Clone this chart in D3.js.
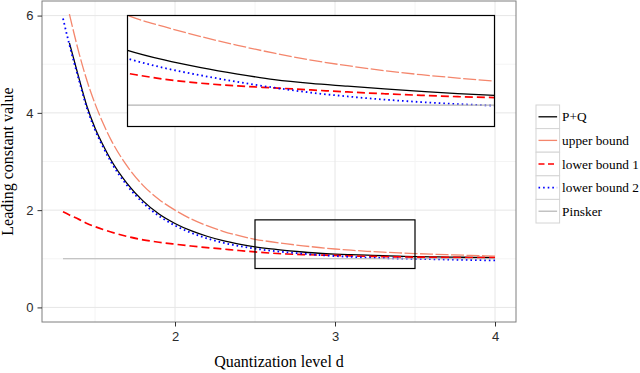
<!DOCTYPE html>
<html><head><meta charset="utf-8">
<script src="https://cdn.jsdelivr.net/npm/d3@7"></script>
<style>body{margin:0;background:#fff}svg{display:block}</style>
</head><body><div id="chart"></div>
<script>
// ---- data ----
const dValues = [1.30,1.34,1.40,1.45,1.50,1.55,1.60,1.70,1.80,1.90,2.00,2.10,2.20,2.30,2.40,2.50,2.60,2.70,2.80,2.90,3.00,3.10,3.20,3.30,3.40,3.50,3.60,3.70,3.80,3.90,4.00];
const pq     = [null,5.44,4.71,4.13,3.69,3.34,3.03,2.55,2.19,1.92,1.726,1.577,1.463,1.373,1.303,1.245,1.202,1.168,1.139,1.114,1.097,1.085,1.073,1.062,1.052,1.044,1.039,1.035,1.031,1.028,1.025];
const upper  = [null,6.03,5.23,4.66,4.19,3.79,3.445,2.91,2.51,2.22,2.00,1.82,1.68,1.565,1.475,1.40,1.350,1.306,1.267,1.232,1.201,1.176,1.154,1.136,1.121,1.107,1.095,1.084,1.074,1.064,1.055];
const lower1 = [1.965,1.90,1.81,1.725,1.66,1.602,1.55,1.46,1.39,1.34,1.30,1.263,1.23,1.20,1.17,1.142,1.116,1.098,1.086,1.077,1.068,1.059,1.051,1.044,1.038,1.034,1.031,1.028,1.026,1.024,1.022];
const lower2 = [5.94,5.40,4.67,4.09,3.65,3.30,2.99,2.51,2.15,1.88,1.684,1.535,1.42,1.33,1.262,1.208,1.166,1.133,1.104,1.078,1.056,1.039,1.025,1.014,1.005,0.998,0.991,0.984,0.978,0.971,0.965];
const pinsker= [1,1,1,1,1,1,1,1,1,1,1,1,1,1,1,1,1,1,1,1,1,1,1,1,1,1,1,1,1,1,1];
const seriesNames = ["P+Q","upper bound","lower bound 1","lower bound 2","Pinsker"];
const xTicks = [2,3,4];
const yTicks = [0,2,4,6];
const xMinor = [1.5,2.5,3.5];
const yMinor = [1,3,5];
const zoomX = [2.5,3.5];
const zoomY = [0.8,1.8];
const insetYDomain = [0.905,1.4];

// ---- styles ----
const styles = [
  {color:"#000000", width:1.3, dash:null},
  {color:"#F4866C", width:1.3, dash:"13,2.5"},
  {color:"#FF0000", width:1.7, dash:"8,4"},
  {color:"#0000FF", width:1.8, dash:"1.6,3"},
  {color:"#B3B3B3", width:1.2, dash:null}
];
const seriesVals = [pq, upper, lower1, lower2, pinsker];
const series = seriesNames.map((n,i)=>({name:n, style:styles[i],
  pts:dValues.map((d,j)=>({d:d, v:seriesVals[i][j]}))}));

const W=640,H=373;
const svg = d3.select("#chart").append("svg").attr("width",W).attr("height",H);
const P = {l:42, r:516, t:1, b:322};
const x = d3.scaleLinear().domain([1.16875,4.13125]).range([P.l,P.r]);
const y = d3.scaleLinear().domain([-0.3,6.3]).range([P.b,P.t]);

// panel background + grid
svg.append("rect").attr("x",P.l).attr("y",P.t).attr("width",P.r-P.l).attr("height",P.b-P.t).attr("fill","#fff");
const grid = svg.append("g");
xMinor.forEach(v=>grid.append("line").attr("x1",x(v)).attr("x2",x(v)).attr("y1",P.t).attr("y2",P.b).attr("stroke","#F4F4F4").attr("stroke-width",1));
yMinor.forEach(v=>grid.append("line").attr("y1",y(v)).attr("y2",y(v)).attr("x1",P.l).attr("x2",P.r).attr("stroke","#F4F4F4").attr("stroke-width",1));
xTicks.forEach(v=>grid.append("line").attr("x1",x(v)).attr("x2",x(v)).attr("y1",P.t).attr("y2",P.b).attr("stroke","#E6E6E6").attr("stroke-width",1));
yTicks.forEach(v=>grid.append("line").attr("y1",y(v)).attr("y2",y(v)).attr("x1",P.l).attr("x2",P.r).attr("stroke","#E6E6E6").attr("stroke-width",1));

// clip for main panel
const defs = svg.append("defs");
defs.append("clipPath").attr("id","mainclip").append("rect").attr("x",P.l).attr("y",P.t).attr("width",P.r-P.l).attr("height",P.b-P.t);

function drawSeries(g, xs, ys){
  series.forEach(s=>{
    const line = d3.line().defined(p=>p.v!=null).x(p=>xs(p.d)).y(p=>ys(p.v)).curve(d3.curveMonotoneX);
    const path = g.append("path").attr("d",line(s.pts)).attr("fill","none")
      .attr("stroke",s.style.color).attr("stroke-width",s.style.width);
    if(s.style.dash) path.attr("stroke-dasharray",s.style.dash);
  });
}
const mainG = svg.append("g").attr("clip-path","url(#mainclip)");
drawSeries(mainG, x, y);

// zoom rectangle
svg.append("rect").attr("x",x(zoomX[0])).attr("y",y(zoomY[1]))
  .attr("width",x(zoomX[1])-x(zoomX[0])).attr("height",y(zoomY[0])-y(zoomY[1]))
  .attr("fill","none").attr("stroke","#000").attr("stroke-width",1.2);

// inset
const I = {l:127.5, r:494.5, t:15.5, b:126.5};
const xi = d3.scaleLinear().domain(zoomX).range([I.l,I.r]);
const yi = d3.scaleLinear().domain(insetYDomain).range([I.b,I.t]);
svg.append("rect").attr("x",I.l).attr("y",I.t).attr("width",I.r-I.l).attr("height",I.b-I.t).attr("fill","#fff");
defs.append("clipPath").attr("id","insetclip").append("rect").attr("x",I.l).attr("y",I.t).attr("width",I.r-I.l).attr("height",I.b-I.t);
const insetG = svg.append("g").attr("clip-path","url(#insetclip)");
drawSeries(insetG, xi, yi);
svg.append("rect").attr("x",I.l).attr("y",I.t).attr("width",I.r-I.l).attr("height",I.b-I.t)
  .attr("fill","none").attr("stroke","#000").attr("stroke-width",1.2);

// panel border
svg.append("rect").attr("x",P.l).attr("y",P.t).attr("width",P.r-P.l).attr("height",P.b-P.t)
  .attr("fill","none").attr("stroke","#7F7F7F").attr("stroke-width",1);

// axes
const xAxis = svg.append("g").attr("transform",`translate(0,${P.b})`)
  .call(d3.axisBottom(x).tickValues(xTicks).tickSize(4.5).tickPadding(5.5).tickFormat(d3.format("d")));
const yAxis = svg.append("g").attr("transform",`translate(${P.l},0)`)
  .call(d3.axisLeft(y).tickValues(yTicks).tickSize(4.5).tickPadding(4).tickFormat(d3.format("d")));
[xAxis,yAxis].forEach(a=>{
  a.select(".domain").remove();
  a.selectAll(".tick line").attr("stroke","#333").attr("stroke-width",1);
  a.selectAll(".tick text").attr("fill","#2b2b2b").style("font-family","'Liberation Sans', Arial, sans-serif").style("font-size","13px");
});

// axis titles
svg.append("text").attr("x",(P.l+P.r)/2).attr("y",367).attr("text-anchor","middle")
  .style("font-family","'Liberation Serif','Times New Roman',serif").style("font-size","16px").text("Quantization level d");
svg.append("text").attr("transform",`translate(13,${(P.t+P.b)/2}) rotate(-90)`).attr("text-anchor","middle")
  .style("font-family","'Liberation Serif','Times New Roman',serif").style("font-size","16px").text("Leading constant value");

// legend
const L = {x:536, y:105, key:23.6};
series.forEach((s,i)=>{
  const gy = L.y + i*L.key;
  svg.append("rect").attr("x",L.x).attr("y",gy).attr("width",L.key).attr("height",L.key)
    .attr("fill","#fff").attr("stroke","#D4D4D4").attr("stroke-width",1);
  const ln = svg.append("line").attr("x1",L.x+2.5).attr("x2",L.x+L.key-2.5).attr("y1",gy+L.key/2).attr("y2",gy+L.key/2)
    .attr("stroke",s.style.color).attr("stroke-width",s.style.width);
  if(s.style.dash && i!==1) ln.attr("stroke-dasharray", i===2 ? "6,3.5" : s.style.dash);
  svg.append("text").attr("x",L.x+L.key+2.5).attr("y",gy+L.key/2+4.5)
    .style("font-family","'Liberation Serif','Times New Roman',serif").style("font-size","13.3px").text(s.name);
});
</script></body></html>
